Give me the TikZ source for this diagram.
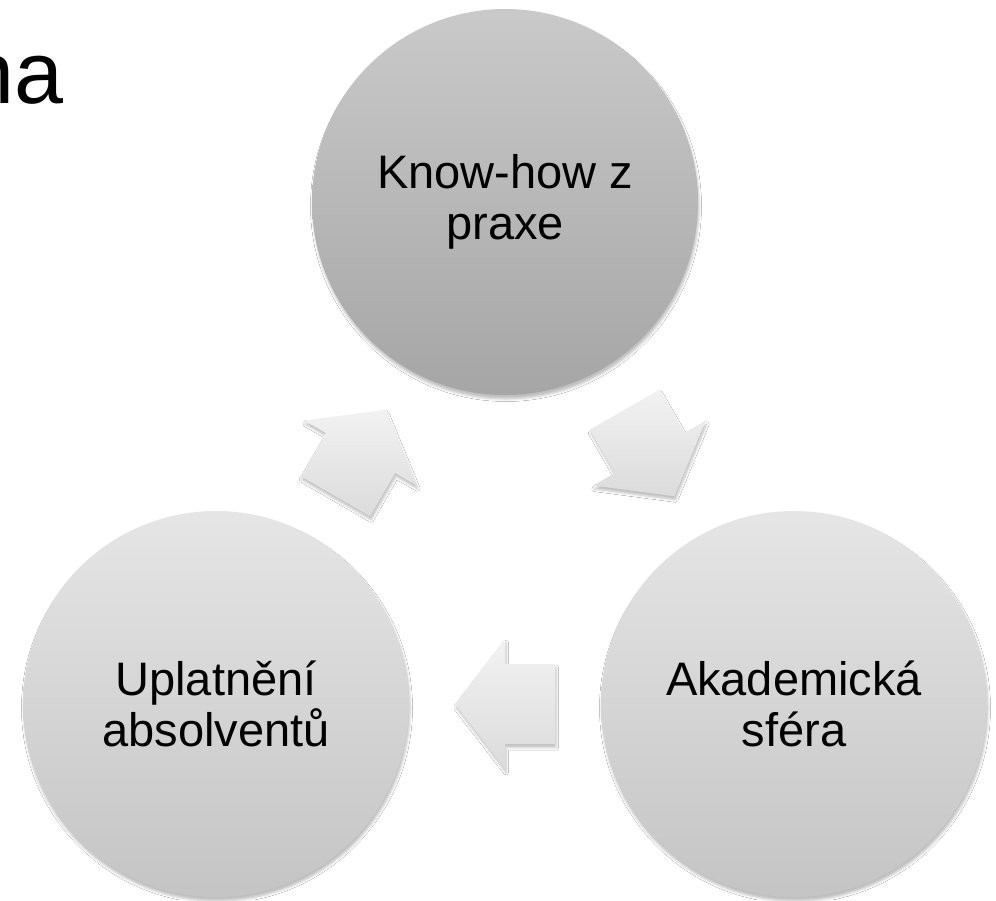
\documentclass[tikz,border=0pt]{standalone}
\usepackage{fontspec}
\setmainfont{Liberation Sans}
\usetikzlibrary{calc,shadows.blur}
\newcommand\blockarr[2]{%
  \path[blockarrow] ($(#1)+(#2:-50)+({#2+90}:-40)$) -- ($(#1)+({#2+90}:-40)$)
    -- ($(#1)+({#2+90}:-65)$) -- ($(#1)+(#2:50)$) -- ($(#1)+({#2+90}:65)$)
    -- ($(#1)+({#2+90}:40)$) -- ($(#1)+(#2:-50)+({#2+90}:40)$) -- cycle;}
\begin{document}
\begin{tikzpicture}[x=1pt,y=-1pt,
  circ/.style={circle, minimum size=386pt, inner sep=0pt, align=center,
    font=\fontsize{47}{51}\selectfont,
    blur shadow={shadow xshift=1pt, shadow yshift=-4pt, shadow opacity=25, shadow blur radius=2.5pt}},
  darkcirc/.style={circ, top color=black!21, bottom color=black!35},
  lightcirc/.style={circ, top color=black!10, bottom color=black!23},
  blockarrow/.style={top color=black!5, bottom color=black!14,
    blur shadow={shadow xshift=1pt, shadow yshift=-3.5pt, shadow opacity=25, shadow blur radius=2.5pt}},
  title/.style={font=\fontsize{88}{90}\selectfont, inner sep=0pt, anchor=base east}
]
\useasboundingbox (0,0) rectangle (996,900);
\clip (0,0) rectangle (996,900);
\fill[white] (0,0) rectangle (996,900);

\node[title] (na) at (64,103) {na};

\node[darkcirc] (top) at (505,202) {Know-how z\\praxe};
\node[lightcirc] (left) at (216,704) {Uplatnění\\absolventů};
\node[lightcirc] (right) at (794,704) {Akademická\\sféra};

\coordinate (a1) at ($(left)!0.5!(top)$);
\coordinate (a2) at ($(top)!0.5!(right)$);
\coordinate (a3) at ($(right)!0.5!(left)$);
\blockarr{a1}{-60}
\blockarr{a2}{60}
\blockarr{a3}{180}
\end{tikzpicture}
\end{document}
